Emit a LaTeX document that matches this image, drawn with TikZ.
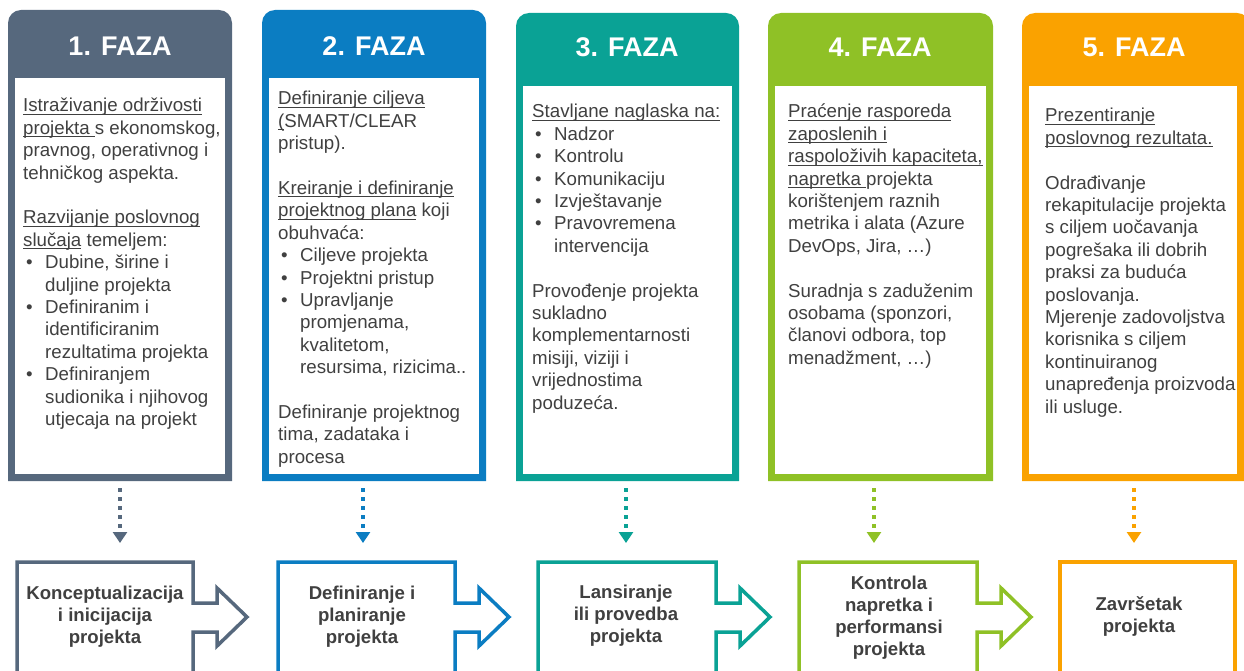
\documentclass[tikz,border=0pt]{standalone}
\usepackage{fontspec}
\setmainfont{Liberation Sans}
\usetikzlibrary{arrows.meta}
\definecolor{slate}{HTML}{56687D}
\definecolor{azure}{HTML}{0B7DC2}
\definecolor{lagoon}{HTML}{0AA295}
\definecolor{leaf}{HTML}{8FC126}
\definecolor{amber}{HTML}{FAA200}
\definecolor{graphite}{HTML}{404040}
\newcommand{\uln}[1]{\setbox0\hbox{#1}\rlap{\rule[-3pt]{\wd0}{1.1pt}}\box0\relax}
\newcommand{\blt}[1]{\hspace*{3pt}\makebox[19pt][l]{•}#1}
\newcommand{\cnt}[1]{\hspace*{22pt}#1}

\begin{document}
\begin{tikzpicture}[x=1pt,y=-1pt,every node/.style={inner sep=0pt},
  head/.style={text=white,font=\fontsize{27}{30}\selectfont\bfseries},
  body/.style={anchor=north west,align=left,text=graphite,font=\fontsize{18.7}{22.4}\selectfont},
  stage/.style={align=center,text=graphite,font=\fontsize{18.6}{22}\selectfont\bfseries},
  flow/.style={line width=3.5pt,fill=white},
  hint/.style={line width=3.5pt,dash pattern=on 3.5pt off 5.5pt,-{Triangle[length=11pt,width=14pt]}}]
\useasboundingbox (0,0) rectangle (1244,671);
\clip (0,0) rectangle (1244,671);

% phase columns
\fill[slate] (8,481) [rounded corners=13] -- (8,10) -- (232,10) [sharp corners] -- (232,481) -- cycle;
\fill[white] (15,78) rectangle (225,474);
\fill[azure] (262,481) [rounded corners=13] -- (262,10) -- (486,10) [sharp corners] -- (486,481) -- cycle;
\fill[white] (269,78) rectangle (479,474);
\fill[lagoon] (516,481) [rounded corners=13] -- (516,13) -- (739,13) [sharp corners] -- (739,481) -- cycle;
\fill[white] (523,86) rectangle (732,474);
\fill[leaf] (768,481) [rounded corners=13] -- (768,13) -- (993,13) [sharp corners] -- (993,481) -- cycle;
\fill[white] (775,86) rectangle (986,474);
\fill[amber] (1022,481) [rounded corners=13] -- (1022,13) -- (1250,13) [sharp corners] -- (1250,481) -- cycle;
\fill[white] (1029,86) rectangle (1237,474);

\node[head] (h1) at (120,46) {1. FAZA};
\node[head] (h2) at (374,46) {2. FAZA};
\node[head] (h3) at (627,47) {3. FAZA};
\node[head] (h4) at (880,47) {4. FAZA};
\node[head] (h5) at (1134,47) {5. FAZA};

\node[body] (t1) at (23,96) {\strut\uln{Istraživanje održivosti}\\
  \uln{projekta\ }s ekonomskog,\\
  pravnog, operativnog i\\
  tehničkog aspekta.\\[22.4pt]
  \uln{Razvijanje poslovnog}\\
  \uln{slučaja} temeljem:\\
  \blt{Dubine, širine i}\\
  \cnt{duljine projekta}\\
  \blt{Definiranim i}\\
  \cnt{identificiranim}\\
  \cnt{rezultatima projekta}\\
  \blt{Definiranjem}\\
  \cnt{sudionika i njihovog}\\
  \cnt{utjecaja na projekt}};
\node[body] (t2) at (278,89) {\strut\uln{Definiranje ciljeva}\\
  \uln{(}SMART/CLEAR\\
  pristup).\\[22.4pt]
  \uln{Kreiranje i definiranje}\\
  \uln{projektnog plana} koji\\
  obuhvaća:\\
  \blt{Ciljeve projekta}\\
  \blt{Projektni pristup}\\
  \blt{Upravljanje}\\
  \cnt{promjenama,}\\
  \cnt{kvalitetom,}\\
  \cnt{resursima, rizicima..}\\[22.4pt]
  Definiranje projektnog\\
  tima, zadataka i\\
  procesa};
\node[body] (t3) at (532,102) {\strut\uln{Stavljane naglaska na:}\\
  \blt{Nadzor}\\
  \blt{Kontrolu}\\
  \blt{Komunikaciju}\\
  \blt{Izvještavanje}\\
  \blt{Pravovremena}\\
  \cnt{intervencija}\\[22.4pt]
  Provođenje projekta\\
  sukladno\\
  komplementarnosti\\
  misiji, viziji i\\
  vrijednostima\\
  poduzeća.};
\node[body] (t4) at (788,102) {\strut\uln{Praćenje rasporeda}\\
  \uln{zaposlenih i}\\
  \uln{raspoloživih kapaciteta,}\\
  \uln{napretka\ }projekta\\
  korištenjem raznih\\
  metrika i alata (Azure\\
  DevOps, Jira, …)\\[22.4pt]
  Suradnja s zaduženim\\
  osobama (sponzori,\\
  članovi odbora, top\\
  menadžment, …)};
\node[body] (t5) at (1045,106) {\strut\uln{Prezentiranje}\\
  \uln{poslovnog rezultata.}\\[22.4pt]
  Odrađivanje\\
  rekapitulacije projekta\\
  s ciljem uočavanja\\
  pogrešaka ili dobrih\\
  praksi za buduća\\
  poslovanja.\\
  Mjerenje zadovoljstva\\
  korisnika s ciljem\\
  kontinuiranog\\
  unapređenja proizvoda\\
  ili usluge.};

% dotted links down to the stages
\coordinate (s1) at (120,488); \coordinate (e1) at (120,543);
\coordinate (s2) at (363,488); \coordinate (e2) at (363,543);
\coordinate (s3) at (626,488); \coordinate (e3) at (626,543);
\coordinate (s4) at (874,488); \coordinate (e4) at (874,543);
\coordinate (s5) at (1134,488); \coordinate (e5) at (1134,543);
\draw[hint,slate] (s1) -- (e1);
\draw[hint,azure] (s2) -- (e2);
\draw[hint,lagoon] (s3) -- (e3);
\draw[hint,leaf] (s4) -- (e4);
\draw[hint,amber] (s5) -- (e5);

% stage boxes
\draw[flow,draw=slate] (17,690) -- (17,562) -- (193,562) -- (193,603) -- (217,603) -- (217,588) -- (247,617) -- (217,646) -- (217,632) -- (193,632) -- (193,690);
\draw[flow,draw=azure] (278,690) -- (278,562) -- (455,562) -- (455,603) -- (479,603) -- (479,588) -- (509,617) -- (479,646) -- (479,632) -- (455,632) -- (455,690);
\draw[flow,draw=lagoon] (538,690) -- (538,562) -- (716,562) -- (716,603) -- (740,603) -- (740,588) -- (770,617) -- (740,646) -- (740,632) -- (716,632) -- (716,690);
\draw[flow,draw=leaf] (799,690) -- (799,562) -- (977,562) -- (977,603) -- (1001,603) -- (1001,588) -- (1031,617) -- (1001,646) -- (1001,632) -- (977,632) -- (977,690);
\draw[flow,draw=amber] (1060,690) -- (1060,562) -- (1235,562) -- (1235,690);

\node[stage] (b1) at (105,617) {Konceptualizacija\\ i inicijacija\\ projekta};
\node[stage] (b2) at (362,617) {Definiranje i\\ planiranje\\ projekta};
\node[stage] (b3) at (626,616) {Lansiranje\\ ili provedba\\ projekta};
\node[stage] (b4) at (889,618) {Kontrola\\ napretka i\\ performansi\\ projekta};
\node[stage] (b5) at (1139,616) {Završetak\\ projekta};
\end{tikzpicture}
\end{document}
